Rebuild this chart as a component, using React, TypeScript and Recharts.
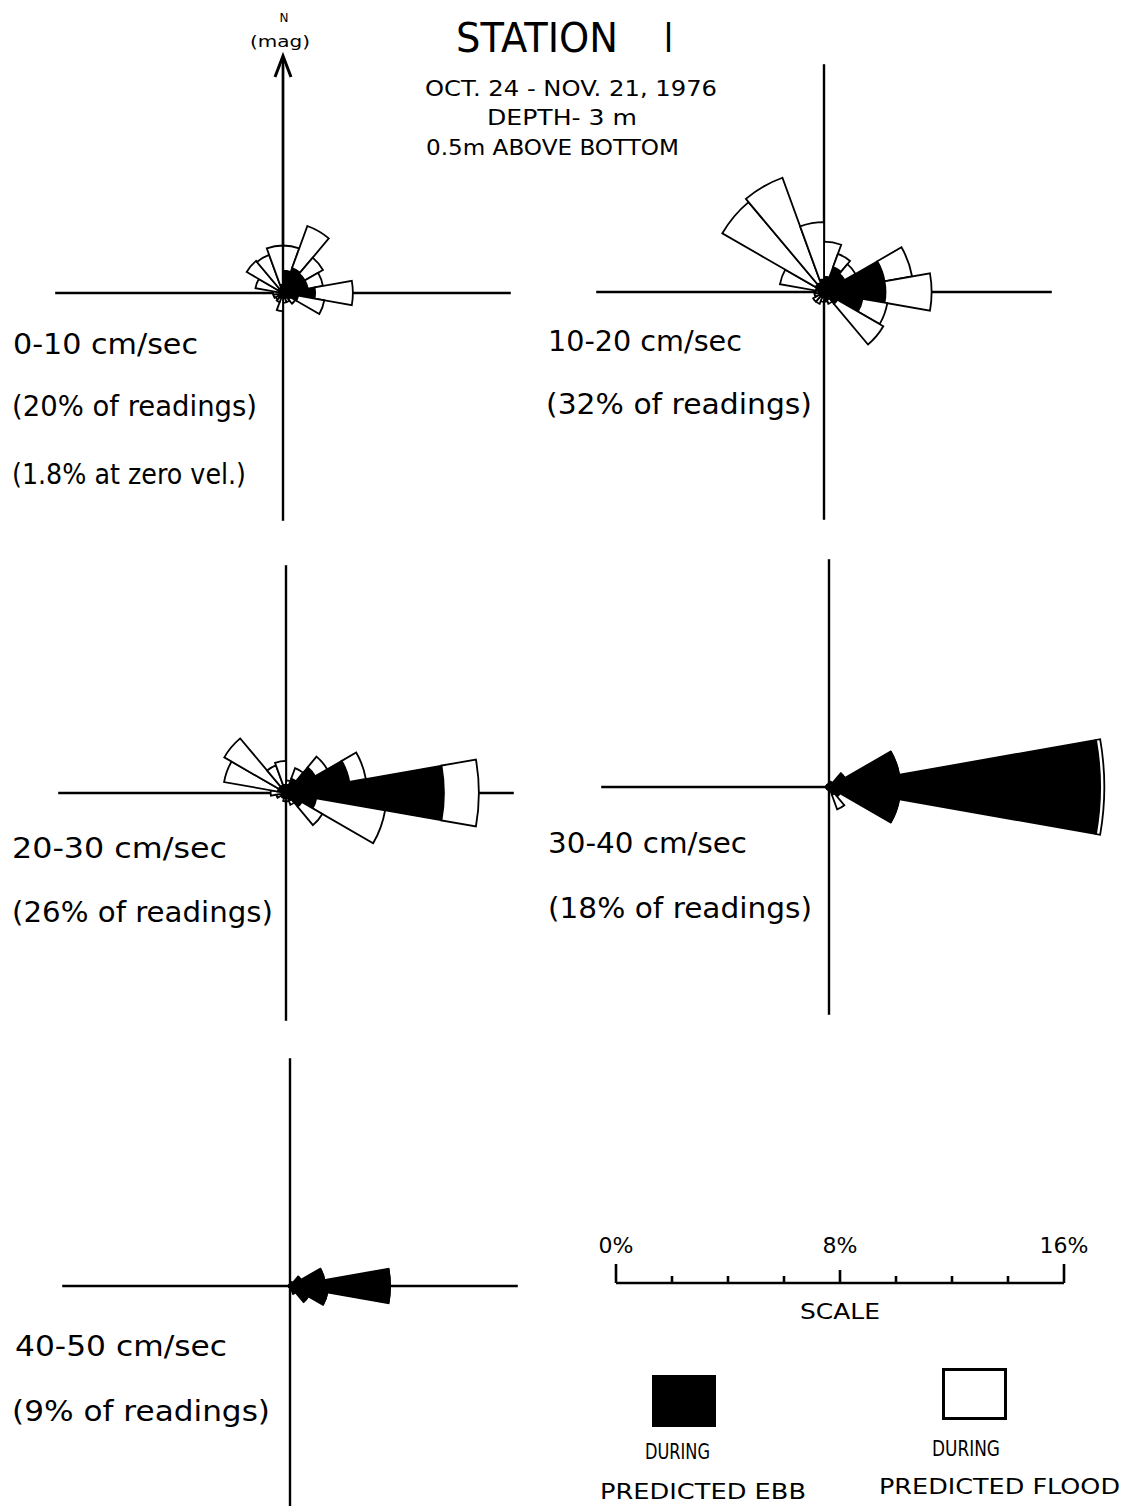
import {
  RadialBarChart,
  RadialBar,
  PolarAngleAxis,
  PolarRadiusAxis,
  PolarGrid,
  LineChart,
  XAxis,
  YAxis,
} from "recharts";

// 20 degree bins, centred on 10, 30 ... 350 deg (mag)
const directions = [
  "10", "30", "50", "70", "90", "110", "130", "150", "170",
  "190", "210", "230", "250", "270", "290", "310", "330", "350",
];

// percent of readings, ebb (black) and flood (white) for each speed class
const ebb0to10 = [0.8, 0.95, 0.9, 0.9, 1.15, 0.55, 0.3, 0.2, 0.2, 0.15, 0.1, 0.1, 0.1, 0.1, 0.15, 0.2, 0.2, 0.3];
const flood0to10 = [0.9, 1.6, 0.75, 0.55, 1.35, 0.95, 0.2, 0.15, 0.15, 0.5, 0.25, 0.2, 0.25, 0.25, 0.85, 1.3, 1.25, 1.4];

const ebb10to20 = [0.55, 0.95, 0.85, 2.2, 2.2, 1.4, 0.55, 0.3, 0.3, 0.15, 0.1, 0.1, 0.1, 0.1, 0.3, 0.35, 0.35, 0.45];
const flood10to20 = [1.25, 0.5, 0.45, 1.0, 1.65, 0.9, 1.9, 0.15, 0.05, 0.2, 0.35, 0.35, 0.25, 0.2, 1.3, 3.85, 4.0, 2.05];

const ebb20to30 = [0.3, 0.55, 1.2, 2.3, 5.65, 1.1, 0.65, 0.3, 0.2, 0.15, 0.1, 0.1, 0.1, 0.15, 0.3, 0.3, 0.3, 0.3];
const flood20to30 = [0.15, 0.4, 0.5, 0.6, 1.25, 2.5, 0.85, 0.15, 0.1, 0.15, 0.1, 0.1, 0.25, 0.4, 1.95, 2.25, 0.75, 0.85];

const ebb30to40 = [0.1, 0.15, 0.65, 2.55, 9.7, 2.55, 0.4, 0.3, 0.1, 0.05, 0.05, 0.05, 0.05, 0.05, 0.05, 0.05, 0.05, 0.05];
const flood30to40 = [0.05, 0.05, 0, 0, 0.15, 0, 0.05, 0.55, 0.05, 0.05, 0.05, 0.05, 0.05, 0.05, 0.05, 0.05, 0.05, 0.05];

const ebb40to50 = [0.05, 0.15, 0.45, 1.25, 3.58, 1.36, 0.75, 0.3, 0.15, 0.05, 0.05, 0.05, 0.05, 0.05, 0.05, 0.05, 0.05, 0.05];
const flood40to50 = [0, 0, 0, 0, 0, 0, 0, 0, 0, 0, 0, 0, 0, 0, 0, 0, 0, 0];

const scaleTicks = [0, 2, 4, 6, 8, 10, 12, 14, 16];
const scaleLabels = [0, 8, 16];

const PX_PER_PCT = 27.95;
const RMAX = 10; // percent at the data chart's outer radius
const ARM_PCT = 8.15; // length of the cross arms
const SIZE = 600;
const FONT = "'DejaVu Sans', sans-serif";
// first band starts at north, bins run clockwise
const START = 70;
const END = START - 360;

const noMargin = { top: 0, right: 0, bottom: 0, left: 0 };

interface RoseProps {
  ox: number;
  oy: number;
  ebb: number[];
  flood: number[];
}

const Rose = ({ ox, oy, ebb, flood }: RoseProps) => {
  const data = directions.map((dir, i) => ({ dir, ebb: ebb[i], flood: flood[i] }));
  const box = { position: "absolute" as const, left: ox - SIZE / 2, top: oy - SIZE / 2 };
  return (
    <>
      <div style={box}>
        <RadialBarChart
          width={SIZE}
          height={SIZE}
          cx={SIZE / 2}
          cy={SIZE / 2}
          innerRadius={0}
          outerRadius={ARM_PCT * PX_PER_PCT}
          startAngle={90}
          endAngle={-270}
          layout="centric"
          margin={noMargin}
          data={data}
        >
          <PolarAngleAxis type="category" dataKey="dir" tick={false} tickLine={false} axisLine={false} />
          <PolarRadiusAxis type="number" domain={[0, ARM_PCT]} tick={false} axisLine={false} />
          <PolarGrid
            gridType="circle"
            polarAngles={[0, 90, 180, 270]}
            polarRadius={[0]}
            stroke="#000"
            strokeWidth={2.4}
          />
        </RadialBarChart>
      </div>
      <div style={box}>
        <RadialBarChart
          width={SIZE}
          height={SIZE}
          cx={SIZE / 2}
          cy={SIZE / 2}
          innerRadius={0}
          outerRadius={RMAX * PX_PER_PCT}
          startAngle={START}
          endAngle={END}
          layout="centric"
          barCategoryGap={0}
          barGap={0}
          margin={noMargin}
          data={data}
        >
          <PolarAngleAxis type="category" dataKey="dir" tick={false} tickLine={false} axisLine={false} />
          <PolarRadiusAxis type="number" domain={[0, RMAX]} tick={false} axisLine={false} />
          <RadialBar dataKey="ebb" stackId="s" fill="#000" stroke="#000" strokeWidth={1.6} isAnimationActive={false} />
          <RadialBar dataKey="flood" stackId="s" fill="#fff" stroke="#000" strokeWidth={1.8} isAnimationActive={false} />
        </RadialBarChart>
      </div>
    </>
  );
};

const ScaleTick = ({ x, y, payload }: { x: number; y: number; payload: { value: number } }) => {
  const v = payload.value;
  const h = v === 0 || v === 16 ? 19 : v === 8 ? 13 : 7;
  return (
    <g>
      <line x1={x} x2={x} y1={y} y2={y - h} stroke="#000" strokeWidth={2.6} />
      {scaleLabels.includes(v) && (
        <text x={x} y={y - 30} textAnchor="middle" fontSize={22} fontFamily={FONT} fill="#000">
          {v}%
        </text>
      )}
    </g>
  );
};

const T = ({ x, y, w, s, children }: { x: number; y: number; w: number; s: number; children: string }) => (
  <text x={x} y={y} fontSize={s} fontFamily={FONT} fill="#000" textLength={w} lengthAdjust="spacingAndGlyphs">
    {children}
  </text>
);

const App = () => {
  const scaleData = scaleTicks.map((pct) => ({ pct }));
  return (
    <div
      style={{
        position: "absolute",
        left: 0,
        top: 0,
        width: 1135,
        height: 1506,
        overflow: "hidden",
        background: "#fff",
      }}
    >
      <Rose ox={283} oy={293} ebb={ebb0to10} flood={flood0to10} />
      <Rose ox={824} oy={292} ebb={ebb10to20} flood={flood10to20} />
      <Rose ox={286} oy={793} ebb={ebb20to30} flood={flood20to30} />
      <Rose ox={829} oy={787} ebb={ebb30to40} flood={flood30to40} />
      <Rose ox={290} oy={1286} ebb={ebb40to50} flood={flood40to50} />

      <div style={{ position: "absolute", left: 586, top: 1213 }}>
        <LineChart width={508} height={80} data={scaleData} margin={{ top: 0, right: 30, bottom: 0, left: 30 }}>
          <XAxis
            dataKey="pct"
            type="number"
            domain={[0, 16]}
            ticks={scaleTicks}
            interval={0}
            orientation="top"
            height={70}
            tickSize={0}
            tickMargin={0}
            tickLine={false}
            axisLine={{ stroke: "#000", strokeWidth: 2.6 }}
            tick={ScaleTick}
          />
          <YAxis hide domain={[0, 1]} />
        </LineChart>
      </div>

      <svg
        width={1135}
        height={1506}
        style={{ position: "absolute", left: 0, top: 0, pointerEvents: "none" }}
      >
        {/* north arrow */}
        <line x1={283} y1={293} x2={283} y2={57} stroke="#000" strokeWidth={2.4} />
        <polyline points="275,77 283,56 291,77" fill="none" stroke="#000" strokeWidth={3} />
        <text x={284} y={22} fontSize={12} fontFamily={FONT} textAnchor="middle">N</text>
        <T x={250} y={47} w={60} s={16}>(mag)</T>

        {/* header */}
        <T x={456} y={52} w={162} s={40}>STATION</T>
        <T x={664} y={52} w={9} s={40}>I</T>
        <T x={425} y={96} w={292} s={22}>OCT. 24 - NOV. 21, 1976</T>
        <T x={487} y={125} w={150} s={22}>DEPTH- 3 m</T>
        <T x={426} y={155} w={253} s={22}>0.5m ABOVE BOTTOM</T>

        {/* speed class labels */}
        <T x={13} y={354} w={185} s={28}>0-10  cm/sec</T>
        <T x={12} y={416} w={245} s={28}>(20% of readings)</T>
        <T x={12} y={484} w={234} s={28}>(1.8% at zero vel.)</T>

        <T x={548} y={351} w={194} s={28}>10-20 cm/sec</T>
        <T x={546} y={414} w={266} s={28}>(32% of readings)</T>

        <T x={12} y={858} w={215} s={28}>20-30 cm/sec</T>
        <T x={12} y={922} w={261} s={28}>(26% of readings)</T>

        <T x={548} y={853} w={199} s={28}>30-40 cm/sec</T>
        <T x={548} y={918} w={264} s={28}>(18% of readings)</T>

        <T x={15} y={1356} w={212} s={28}>40-50 cm/sec</T>
        <T x={12} y={1421} w={258} s={28}>(9% of readings)</T>

        {/* scale caption */}
        <T x={800} y={1319} w={80} s={22}>SCALE</T>

        {/* legend */}
        <rect x={652} y={1375} width={64} height={52} fill="#000" />
        <rect x={943.5} y={1369.5} width={62} height={49} fill="#fff" stroke="#000" strokeWidth={3} />
        <T x={645} y={1459} w={65} s={22}>DURING</T>
        <T x={600} y={1499} w={206} s={22}>PREDICTED EBB</T>
        <T x={932} y={1456} w={68} s={22}>DURING</T>
        <T x={879} y={1494} w={241} s={22}>PREDICTED FLOOD</T>
      </svg>
    </div>
  );
};

export default App;
